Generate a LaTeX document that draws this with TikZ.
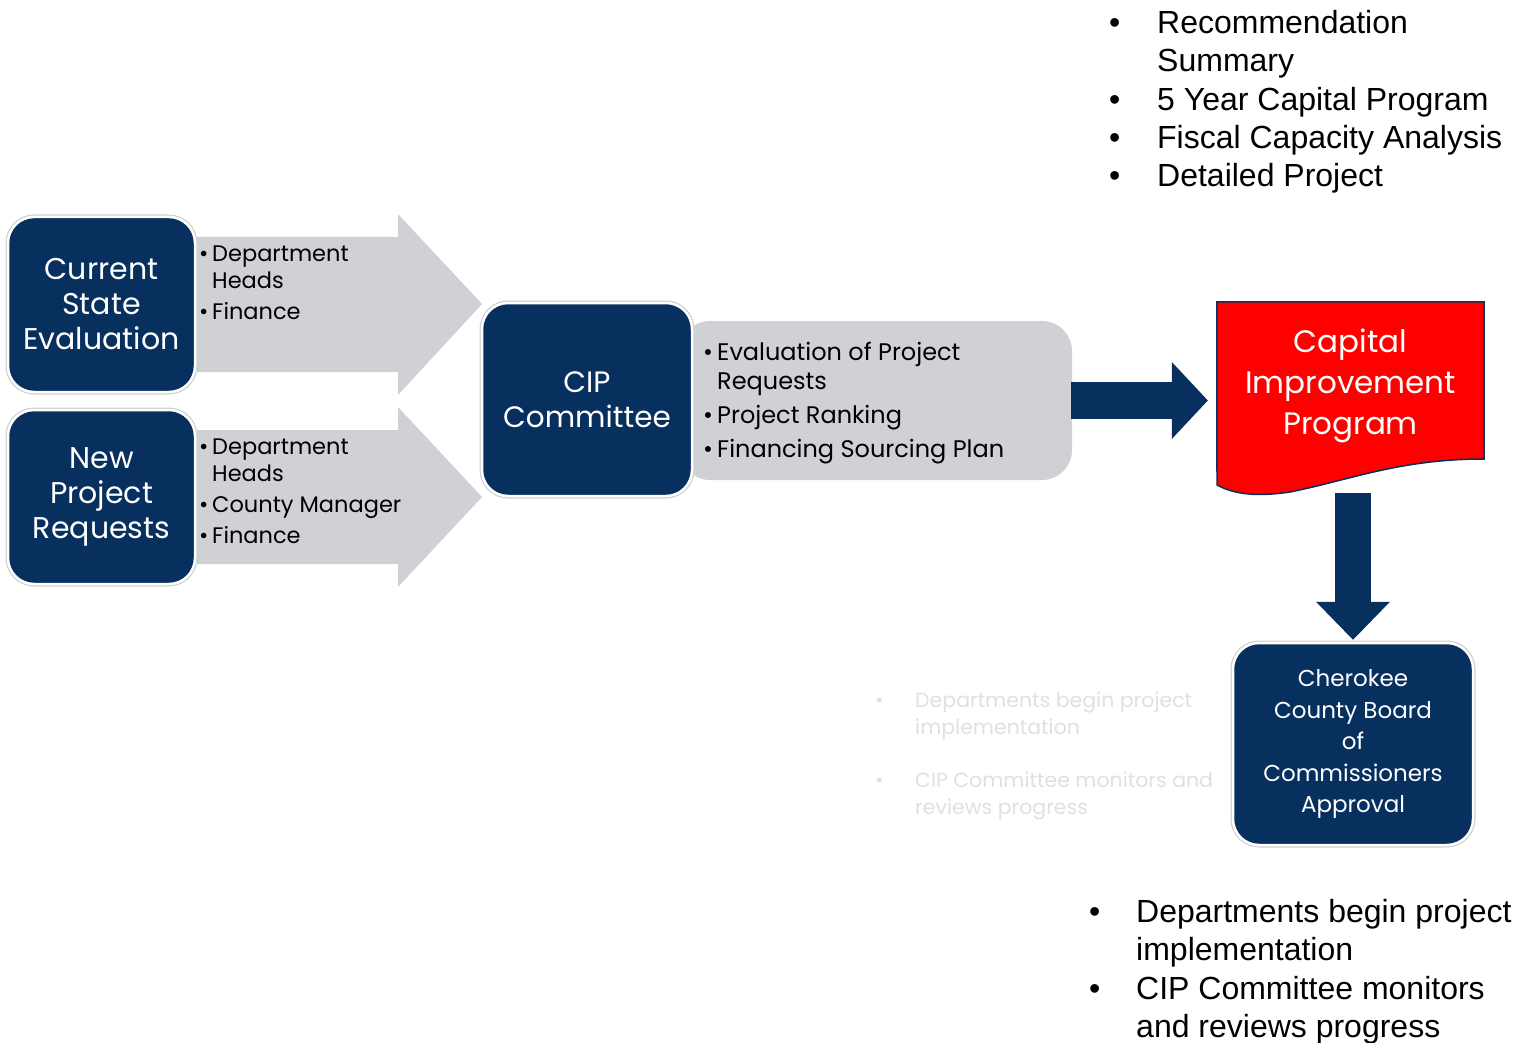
\documentclass[tikz,border=0pt]{standalone}
\usepackage{fontspec}
\setmainfont{Poppins}
\newfontfamily\arialfont{Liberation Sans}
\usepackage{xcolor}
\usetikzlibrary{arrows.meta, backgrounds, positioning}
\definecolor{cipnavy}{HTML}{08305F}
\definecolor{cipgray}{HTML}{D0D1D5}
\definecolor{cipred}{HTML}{FF0000}
\newcommand{\bitem}[2][13pt]{\makebox[#1][l]{\textbullet}#2}
\newcommand{\bcont}[2][13pt]{\hspace*{#1}#2}

\begin{document}
\begin{tikzpicture}[x=1pt, y=1pt,
  navybox/.style={fill=cipnavy, text=white, rounded corners=26pt, draw=white,
    line width=2.5pt, preaction={draw=black!18, line width=5pt},
    align=center, inner sep=0pt},
  graylist/.style={anchor=north west, inner sep=0pt, align=left},
  blacklist/.style={anchor=north west, inner sep=0pt, align=left,
    font=\arialfont\fontsize{32}{38.4}\selectfont},
  fatarrow/.style={cipnavy, line width=#1}]
\useasboundingbox (0,0) rectangle (1526,-1043);
%
% gray arrows behind the input boxes
\fill[cipgray] (190,-237) -- (398,-237) -- (398,-214) -- (482,-304)
  -- (398,-395) -- (398,-372) -- (190,-372) -- cycle;
\fill[cipgray] (190,-430) -- (398,-430) -- (398,-407) -- (482,-497)
  -- (398,-587) -- (398,-564) -- (190,-564) -- cycle;
\fill[cipgray, rounded corners=30pt] (680,-321) rectangle (1072,-480);
\coordinate (pan) at (876,-400.5);
\coordinate (panE) at (1071,-400.5);
%
\node[navybox, minimum width=187pt, minimum height=175pt,
  font=\fontsize{30}{35}\selectfont] (cur) at (101.5,-304.5)
  {Current\\State\\Evaluation};
\node[navybox, minimum width=187pt, minimum height=174pt,
  font=\fontsize{30}{35}\selectfont] (new) at (101.5,-497)
  {New\\Project\\Requests};
\node[navybox, minimum width=210pt, minimum height=193pt,
  font=\fontsize{29.5}{35}\selectfont] (cip) at (587,-399.5)
  {CIP\\Committee};
%
\node[graylist, font=\fontsize{22.5}{27}\selectfont] (curlist) at (199,-246)
  {\bitem{Department}\\ \bcont{Heads}\\[4pt] \bitem{Finance}};
\node[graylist, font=\fontsize{22.5}{27}\selectfont] (newlist) at (199,-439)
  {\bitem{Department}\\ \bcont{Heads}\\[4pt] \bitem{County Manager}\\[4pt]
   \bitem{Finance}};
\node[graylist, font=\fontsize{24}{29}\selectfont] (ciplist) at (703,-342)
  {\bitem[14pt]{Evaluation of Project}\\ \bcont[14pt]{Requests}\\[5pt]
   \bitem[14pt]{Project Ranking}\\[5pt] \bitem[14pt]{Financing Sourcing Plan}};
%
\node[minimum width=267pt, minimum height=168pt, inner sep=0pt, text=white,
  align=center, font=\fontsize{31}{41}\selectfont] (cap) at (1350.5,-386)
  {Capital\\Improvement\\Program};
\begin{scope}[on background layer]
\draw[fill=cipred, draw=cipnavy, line width=1.5pt]
  (cap.north west) -- (cap.north east) -- (1484,-459)
  .. controls (1400,-459) and (1350,-480) .. (1290,-492)
  .. controls (1250,-498) and (1230,-492) .. (1217,-485) -- cycle;
\end{scope}
\coordinate (capbot) at (1353,-493);
%
\node[navybox, minimum width=240pt, minimum height=202pt,
  font=\fontsize{23}{31.5}\selectfont] (board) at (1353,-744)
  {Cherokee\\County Board\\of\\Commissioners\\Approval};
%
\draw[fatarrow=37pt, -{Triangle[length=36pt, width=77pt, line width=0pt]}]
  (panE) -- ([xshift=-9pt]panE -| cap.west);
\draw[fatarrow=36pt, -{Triangle[length=38pt, width=74pt, line width=0pt]}]
  (capbot) -- ([yshift=2pt]board.north);
%
\node[blacklist] (outlist) at (1109,-10)
  {\bitem[48pt]{Recommendation}\\ \bcont[48pt]{Summary}\\
   \bitem[48pt]{5 Year Capital Program}\\ \bitem[48pt]{Fiscal Capacity Analysis}\\
   \bitem[48pt]{Detailed Project}};
\node[blacklist] (nextlist) at (1089,-899)
  {\bitem[47pt]{Departments begin project}\\ \bcont[47pt]{implementation}\\
   \bitem[47pt]{CIP Committee monitors}\\ \bcont[47pt]{and reviews progress}};
\node[graylist, text=black!12, font=\fontsize{20.5}{27}\selectfont] (ghost)
  at (875,-692)
  {\bitem[40pt]{Departments begin project}\\ \bcont[40pt]{implementation}\\[26pt]
   \bitem[40pt]{CIP Committee monitors and}\\ \bcont[40pt]{reviews progress}};
\end{tikzpicture}
\end{document}
